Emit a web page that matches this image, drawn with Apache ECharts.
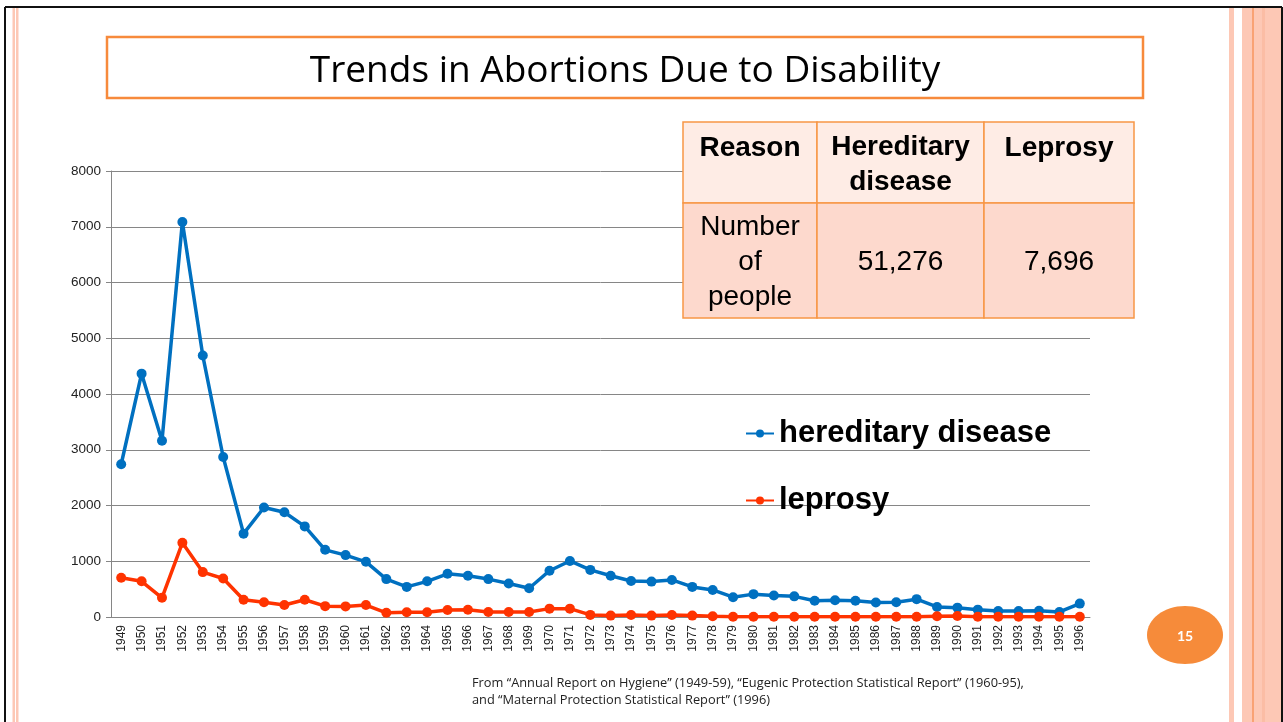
<!DOCTYPE html>
<html>
<head>
<meta charset="utf-8">
<script src="https://cdn.jsdelivr.net/npm/echarts@6/dist/echarts.min.js"></script>
<style>
  html, body { margin: 0; padding: 0; background: #fff; }
  #slide { width: 1283px; height: 722px; }
</style>
</head>
<body>
<div id="slide"></div>
<script>
// data
const years = ['1949', '1950', '1951', '1952', '1953', '1954', '1955', '1956', '1957', '1958',
  '1959', '1960', '1961', '1962', '1963', '1964', '1965', '1966', '1967', '1968',
  '1969', '1970', '1971', '1972', '1973', '1974', '1975', '1976', '1977', '1978',
  '1979', '1980', '1981', '1982', '1983', '1984', '1985', '1986', '1987', '1988',
  '1989', '1990', '1991', '1992', '1993', '1994', '1995', '1996']
const hereditary = [2740, 4365, 3160, 7085, 4690, 2870, 1495, 1965, 1880, 1625,
  1205, 1110, 990, 680, 540, 640, 775, 740, 680, 600,
  515, 830, 1005, 845, 740, 645, 635, 665, 540, 485,
  355, 410, 385, 370, 290, 300, 290, 260, 265, 320,
  180, 168, 132, 108, 108, 112, 90, 240]
const leprosy = [705, 640, 345, 1330, 805, 690, 310, 265, 215, 310,
  195, 190, 215, 75, 85, 85, 125, 130, 90, 90,
  90, 150, 150, 38, 25, 36, 25, 36, 25, 12,
  5, 5, 5, 5, 5, 5, 5, 5, 5, 5,
  12, 18, 5, 5, 5, 5, 5, 5]
const yTicks = { min: 0, max: 8000, interval: 1000 }

// summary table
const tableHead = ['Reason', 'Hereditary\ndisease', 'Leprosy']
const tableBody = ['Number\nof\npeople', '51,276', '7,696']

const titleText = 'Trends in Abortions Due to Disability'
const sourceText = 'From \u201cAnnual Report on Hygiene\u201d (1949-59), \u201cEugenic Protection Statistical Report\u201d (1960-95),\nand \u201cMaternal Protection Statistical Report\u201d (1996)'
const pageNo = '15'

const blue = '#0070c0'
const red = '#ff3300'
const orange = '#f79646'
const grey = '#868686'

// table layout
const colX = [683, 817, 984, 1134]
const rowY = [122, 203, 318]

const tableGraphics = []
for (let r = 0; r < 2; r++) {
  const cells = r === 0 ? tableHead : tableBody
  for (let c = 0; c < 3; c++) {
    tableGraphics.push({
      type: 'rect',
      z: 100,
      shape: { x: colX[c], y: rowY[r], width: colX[c + 1] - colX[c], height: rowY[r + 1] - rowY[r] },
      style: { fill: r === 0 ? '#feece5' : '#fdd9cd', stroke: orange, lineWidth: 1.5 }
    })
    const lines = cells[c].split('\n').length
    tableGraphics.push({
      type: 'text',
      z: 101,
      x: (colX[c] + colX[c + 1]) / 2,
      y: r === 0 ? (lines === 1 ? 148 : 165) : 262,
      style: {
        text: cells[c],
        font: (r === 0 ? 'bold ' : '') + '28px "Liberation Sans", Arial, sans-serif',
        lineHeight: 35,
        fill: '#000',
        align: 'center',
        verticalAlign: 'middle'
      }
    })
  }
}

const decor = [
  // slide frame
  { type: 'line', shape: { x1: 5, y1: 7, x2: 1282, y2: 7 }, style: { stroke: '#111', lineWidth: 2 } },
  { type: 'line', shape: { x1: 5, y1: 7, x2: 5, y2: 722 }, style: { stroke: '#111', lineWidth: 2 } },
  { type: 'line', shape: { x1: 1282, y1: 7, x2: 1282, y2: 722 }, style: { stroke: '#111', lineWidth: 2 } },
  { type: 'rect', shape: { x: 12.5, y: 8, width: 2.5, height: 714 }, style: { fill: '#fdc8b5' } },
  { type: 'rect', shape: { x: 16, y: 8, width: 2.5, height: 714 }, style: { fill: '#fdc8b5' } },
  { type: 'rect', shape: { x: 1229, y: 8, width: 5, height: 714 }, style: { fill: '#fdc8b5' } },
  { type: 'rect', shape: { x: 1242, y: 8, width: 39, height: 714 }, style: { fill: '#fdc8b5' } },
  { type: 'rect', shape: { x: 1252, y: 8, width: 2, height: 714 }, style: { fill: '#f9a274' } },
  { type: 'rect', shape: { x: 1262, y: 8, width: 3, height: 714 }, style: { fill: '#fbbda5' } },
  // title box
  {
    type: 'rect',
    shape: { x: 107, y: 37, width: 1036, height: 61 },
    style: { fill: '#fff', stroke: '#f78a3c', lineWidth: 2.5 }
  },
  {
    type: 'text', x: 625, y: 71,
    style: { text: titleText, font: '37px "Open Sans", Lato, sans-serif', fill: '#000', align: 'center', verticalAlign: 'middle' }
  },
  // page number
  { type: 'ellipse', shape: { cx: 1185, cy: 635, rx: 38, ry: 29 }, style: { fill: '#f68b3a' } },
  {
    type: 'text', x: 1185, y: 636,
    style: { text: pageNo, font: 'bold 14px Lato, sans-serif', fill: '#fff', align: 'center', verticalAlign: 'middle' }
  },
  // source note
  {
    type: 'text', x: 472, y: 675,
    style: { text: sourceText, font: '12.8px "Open Sans", Lato, sans-serif', lineHeight: 17, fill: '#222', align: 'left', verticalAlign: 'top' }
  }
]

const chart = echarts.init(document.getElementById('slide'))
chart.setOption({
  animation: false,
  backgroundColor: '#fff',
  grid: { left: 111, right: 193, top: 171, bottom: 105 },
  legend: {
    orient: 'vertical',
    left: 740,
    top: 413,
    itemWidth: 28,
    itemHeight: 10,
    itemGap: 36,
    textStyle: { fontSize: 31, fontWeight: 'bold', color: '#000', fontFamily: '"Liberation Sans", Arial, sans-serif' },
    data: ['hereditary disease', 'leprosy']
  },
  xAxis: {
    type: 'category',
    data: years,
    boundaryGap: true,
    axisLine: { lineStyle: { color: grey } },
    axisTick: { length: 5, lineStyle: { color: grey } },
    axisLabel: { rotate: 90, interval: 0, margin: 8, fontSize: 12, color: '#222', fontFamily: '"Liberation Sans", Arial, sans-serif' }
  },
  yAxis: {
    type: 'value',
    min: yTicks.min,
    max: yTicks.max,
    interval: yTicks.interval,
    axisLine: { show: true, lineStyle: { color: grey } },
    axisTick: { show: true, length: 5, lineStyle: { color: grey } },
    axisLabel: {
      margin: 10, fontSize: 13.5, color: '#222', fontFamily: '"Liberation Sans", Arial, sans-serif',
      formatter: v => String(v)
    },
    splitLine: { lineStyle: { color: grey } }
  },
  series: [
    {
      name: 'hereditary disease',
      type: 'line',
      data: hereditary,
      color: blue,
      symbol: 'circle',
      symbolSize: 10,
      lineStyle: { width: 3.5 }
    },
    {
      name: 'leprosy',
      type: 'line',
      data: leprosy,
      color: red,
      symbol: 'circle',
      symbolSize: 10,
      lineStyle: { width: 3.5 }
    }
  ],
  graphic: decor.concat(tableGraphics)
})
</script>
</body>
</html>
